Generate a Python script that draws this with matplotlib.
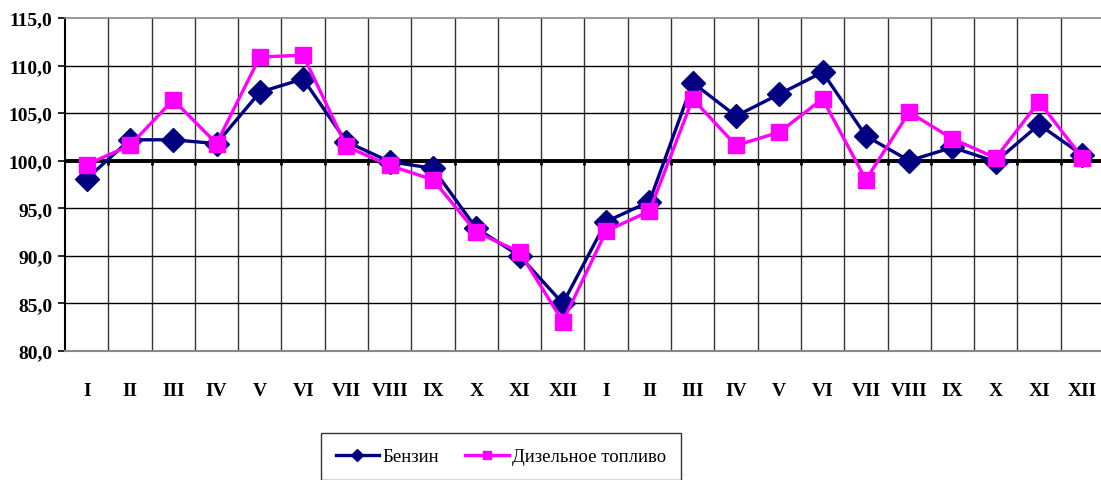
import matplotlib
matplotlib.use("Agg")
import matplotlib.pyplot as plt
import numpy as np

months = ["I", "II", "III", "IV", "V", "VI", "VII", "VIII", "IX", "X", "XI", "XII",
          "I", "II", "III", "IV", "V", "VI", "VII", "VIII", "IX", "X", "XI", "XII"]
benzin = [98.1, 102.2, 102.2, 101.8, 107.2, 108.6, 102.0, 99.9, 99.2, 92.9, 90.0, 85.0,
          93.6, 95.7, 108.2, 104.7, 107.0, 109.3, 102.6, 100.0, 101.4, 99.9, 103.8, 100.6]
diesel = [99.6, 101.6, 106.4, 101.8, 110.9, 111.1, 101.5, 99.5, 98.0, 92.5, 90.4, 83.1,
          92.6, 94.7, 106.5, 101.6, 103.0, 106.5, 98.0, 105.1, 102.3, 100.3, 106.2, 100.3]
series_names = ["Бензин", "Дизельное топливо"]
yticks = [80, 85, 90, 95, 100, 105, 110, 115]

fig = plt.figure(figsize=(11.01, 4.81), dpi=100)
ax = fig.add_axes([65/1101, 1-352/481, (1104-65)/1101, (352-19)/481])

x = np.arange(1, len(months) + 1)
serif = "Liberation Serif"

ax.set_xlim(0.5, len(months) + 0.5)
ax.set_ylim(80, 115)

# grid
for b in np.arange(1.5, len(months) + 0.5, 1):
    ax.axvline(b, color="#333333", lw=1.0, zorder=1)
for yv in yticks[1:-1]:
    ax.axhline(yv, color="black", lw=1.0, zorder=1)
ax.axhline(100, color="black", lw=2.8, zorder=2)
ax.vlines(np.arange(1.5, len(months) + 0.5, 1), 99.55, 100, color="black", lw=2.0, zorder=2)

ax.plot(x, benzin, color="#000080", lw=2.4, marker="D", markersize=12.5,
        markerfacecolor="#000080", markeredgecolor="#000080", label=series_names[0], zorder=4)
ax.plot(x, diesel, color="#FF00FF", lw=2.4, marker="s", markersize=11.5,
        markerfacecolor="#FF00FF", markeredgecolor="#FF00FF", label=series_names[1], zorder=5)

ax.set_yticks(yticks)
ax.set_yticklabels([f"{v:.1f}".replace(".", ",") for v in yticks],
                   fontfamily=serif, fontweight="bold", fontsize=14)
ax.tick_params(axis="y", direction="out", length=5, width=1.2, color="black", pad=4)
ax.set_xticks(x)
ax.set_xticklabels(months, fontfamily=serif, fontweight="bold", fontsize=14)
ax.tick_params(axis="x", length=0, pad=22)

ax.spines["left"].set_color("black")
ax.spines["left"].set_linewidth(1.5)
ax.spines["top"].set_color("#888888")
ax.spines["top"].set_linewidth(1.2)
ax.spines["bottom"].set_color("#888888")
ax.spines["bottom"].set_linewidth(1.5)
ax.spines["right"].set_visible(False)

leg = fig.legend(loc="upper center", bbox_to_anchor=(501/1101, 1-434/481), ncol=2,
                 prop={"family": serif, "size": 13.5}, frameon=True, fancybox=False,
                 edgecolor="black", markerscale=0.5, handlelength=2.3,
                 columnspacing=1.4, borderpad=0.8, handletextpad=0.2,
                 borderaxespad=0.0)
leg.get_frame().set_linewidth(1.0)

fig.savefig("out.png", dpi=100)
